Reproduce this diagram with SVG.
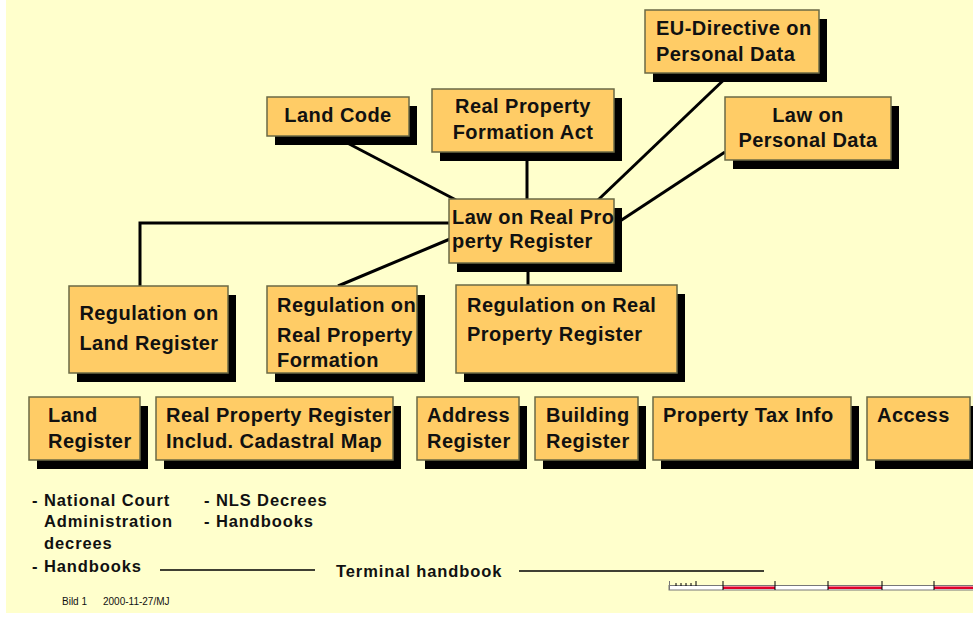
<svg xmlns="http://www.w3.org/2000/svg" width="973" height="617" viewBox="0 0 973 617">
<style>
.box{fill:#FFCC66;stroke:#6B6A45;stroke-width:1.5}
.sh{fill:#000}
.t{font-family:"Liberation Sans",Arial,sans-serif;font-weight:bold;font-size:20px;letter-spacing:0.45px;fill:#111}
.c{text-anchor:middle}
.s{font-family:"Liberation Sans",Arial,sans-serif;font-weight:bold;font-size:16.5px;letter-spacing:0.9px;fill:#111}
.f{font-family:"Liberation Sans",Arial,sans-serif;font-size:10px;fill:#111}
.ln{stroke:#000;stroke-width:3;fill:none}
.thin{stroke:#000;stroke-width:1.5;fill:none}
</style>
<rect x="6" y="0" width="967" height="613" fill="#FFFFCC"/>
<g id="connectors">
<line class="ln" x1="334" y1="136" x2="456" y2="200"/>
<line class="ln" x1="527" y1="152" x2="527" y2="200"/>
<line class="ln" x1="731" y1="73" x2="598" y2="200"/>
<line class="ln" x1="725" y1="152" x2="614" y2="225"/>
<polyline class="ln" points="140,286 140,223 450,223"/>
<line class="ln" x1="338" y1="286" x2="450" y2="239"/>
<line class="ln" x1="528" y1="263" x2="528" y2="285"/>
</g>
<g id="n-eu"><rect class="sh" x="653" y="19" width="174" height="63"/><rect class="box" x="645" y="10" width="174" height="63"/><text class="t" x="656" y="35">EU-Directive on</text><text class="t" x="656" y="61">Personal Data</text></g>
<g id="n-landcode"><rect class="sh" x="275" y="106" width="142" height="39"/><rect class="box" x="267" y="97" width="142" height="39"/><text class="t c" x="338" y="122">Land Code</text></g>
<g id="n-rpfa"><rect class="sh" x="440" y="98" width="182" height="63"/><rect class="box" x="432" y="89" width="182" height="63"/><text class="t c" x="523" y="113">Real Property</text><text class="t c" x="523" y="139">Formation Act</text></g>
<g id="n-lopd"><rect class="sh" x="733" y="106" width="166" height="63"/><rect class="box" x="725" y="97" width="166" height="63"/><text class="t c" x="808" y="122">Law on</text><text class="t c" x="808" y="147">Personal Data</text></g>
<g id="n-lrpr"><rect class="sh" x="457" y="208" width="165" height="64"/><rect class="box" x="449" y="199" width="165" height="64"/><text class="t" x="452" y="224">Law on Real Pro</text><text class="t" x="452" y="248">perty Register</text></g>
<g id="n-rlr"><rect class="sh" x="77" y="295" width="159" height="87"/><rect class="box" x="69" y="286" width="159" height="87"/><text class="t c" x="149" y="320">Regulation on</text><text class="t c" x="149" y="350">Land Register</text></g>
<g id="n-rrpf"><rect class="sh" x="275" y="295" width="150" height="87"/><rect class="box" x="267" y="286" width="150" height="87"/><text class="t" x="277" y="312">Regulation on</text><text class="t" x="277" y="342">Real Property</text><text class="t" x="277" y="367">Formation</text></g>
<g id="n-rrpr"><rect class="sh" x="464" y="294" width="221" height="88"/><rect class="box" x="456" y="285" width="221" height="88"/><text class="t" x="467" y="312">Regulation on Real</text><text class="t" x="467" y="341">Property Register</text></g>
<g id="n-landreg"><rect class="sh" x="37" y="406" width="111" height="63"/><rect class="box" x="29" y="397" width="111" height="63"/><text class="t" x="48" y="422">Land</text><text class="t" x="48" y="448">Register</text></g>
<g id="n-rpreg"><rect class="sh" x="164" y="406" width="237" height="63"/><rect class="box" x="156" y="397" width="237" height="63"/><text class="t" x="166" y="422">Real Property Register</text><text class="t" x="166" y="448">Includ. Cadastral Map</text></g>
<g id="n-addr"><rect class="sh" x="425" y="406" width="102" height="63"/><rect class="box" x="417" y="397" width="102" height="63"/><text class="t" x="427" y="422">Address</text><text class="t" x="427" y="448">Register</text></g>
<g id="n-build"><rect class="sh" x="543" y="406" width="103" height="63"/><rect class="box" x="535" y="397" width="103" height="63"/><text class="t" x="546" y="422">Building</text><text class="t" x="546" y="448">Register</text></g>
<g id="n-tax"><rect class="sh" x="661" y="406" width="198" height="63"/><rect class="box" x="653" y="397" width="198" height="63"/><text class="t" x="663" y="422">Property Tax Info</text></g>
<g id="n-access"><rect class="sh" x="875" y="406" width="103" height="63"/><rect class="box" x="867" y="397" width="103" height="63"/><text class="t" x="877" y="422">Access</text></g>
<g id="notes">
<text class="s" x="32" y="506">- National Court</text>
<text class="s" x="44" y="527">Administration</text>
<text class="s" x="44" y="549">decrees</text>
<text class="s" x="32" y="572">- Handbooks</text>
<text class="s" x="204" y="506">- NLS Decrees</text>
<text class="s" x="204" y="527">- Handbooks</text>
<text class="s" x="336" y="577">Terminal handbook</text>
<line class="thin" x1="160" y1="570" x2="315" y2="570"/>
<line class="thin" x1="519" y1="571" x2="764" y2="571"/>
</g>
<g id="scalebar">
<rect x="669" y="585.5" width="310" height="4.5" fill="#fff" stroke="#777" stroke-width="1"/>
<rect x="723" y="586.5" width="52" height="2.5" fill="#E0002A"/>
<rect x="828" y="586.5" width="54" height="2.5" fill="#E0002A"/>
<rect x="934" y="586.5" width="45" height="2.5" fill="#E0002A"/>
<g stroke="#000" stroke-width="1">
<line x1="669.5" y1="581" x2="669.5" y2="590" stroke="#777"/>
<line x1="723" y1="581" x2="723" y2="590"/>
<line x1="775" y1="581" x2="775" y2="590"/>
<line x1="828" y1="581" x2="828" y2="590"/>
<line x1="882" y1="581" x2="882" y2="590"/>
<line x1="934" y1="581" x2="934" y2="590"/>
<line x1="676" y1="583" x2="676" y2="586"/>
<line x1="681" y1="583" x2="681" y2="586"/>
<line x1="686" y1="583" x2="686" y2="586"/>
<line x1="691" y1="583" x2="691" y2="586"/>
<line x1="696" y1="581" x2="696" y2="586"/>
</g>
</g>
<g id="footer">
<text class="f" x="62" y="605">Bild 1</text>
<text class="f" x="103" y="605">2000-11-27/MJ</text>
</g>
</svg>
